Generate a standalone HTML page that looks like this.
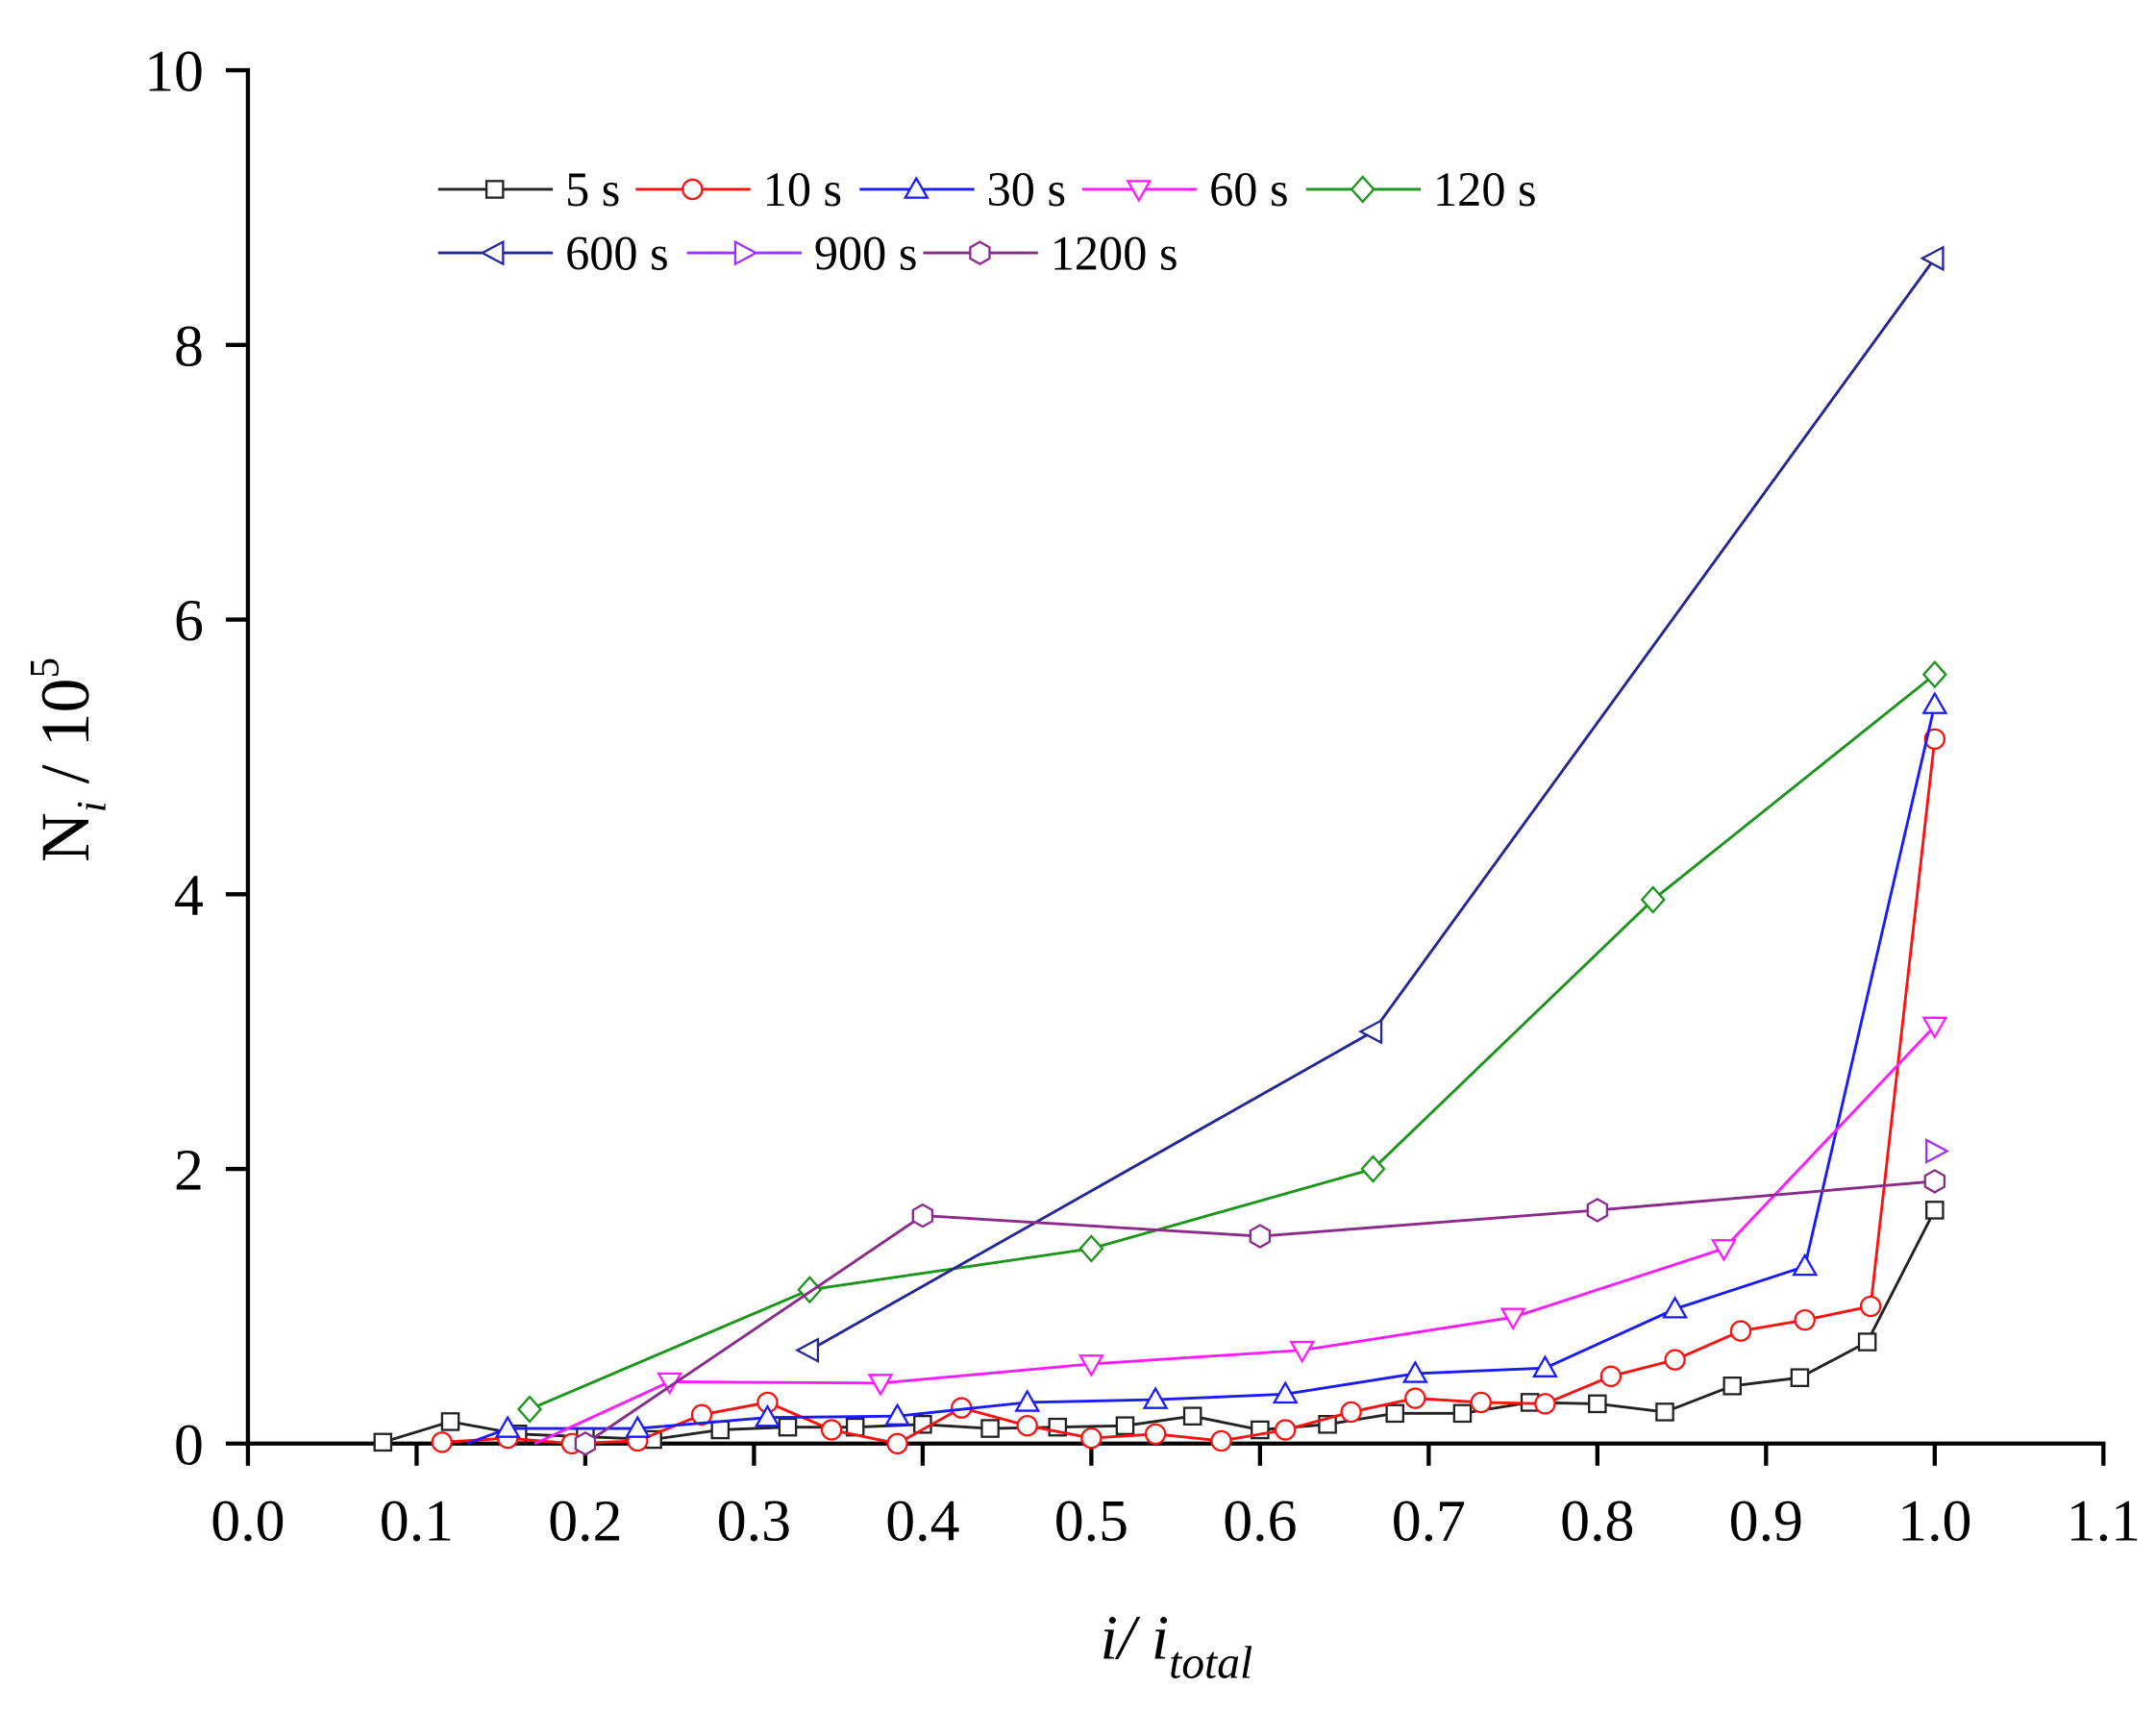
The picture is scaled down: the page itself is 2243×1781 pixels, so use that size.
<!DOCTYPE html>
<html><head><meta charset="utf-8"><style>
html,body{margin:0;padding:0;background:#fff;}
svg{display:block;}
text{font-family:"Liberation Serif",serif;}
</style></head><body>
<svg id="s" width="2243" height="1781" viewBox="0 0 1560 1238.7" preserveAspectRatio="none" xmlns="http://www.w3.org/2000/svg">
<rect width="1560" height="1239" fill="#fff"/>
<g id="axes" stroke="#000" stroke-width="3" fill="none"></g>
<g id="ticks" stroke="#000" stroke-width="3"></g>
<g id="labels" font-size="43" fill="#000"></g>
<text x="0" y="0" font-size="50" transform="translate(64,624) rotate(-90)">N<tspan font-size="30" dy="12" font-style="italic">i</tspan><tspan dy="-12"> / 10</tspan><tspan font-size="30" dy="-22">5</tspan></text>
<text x="796" y="1200" font-size="46" font-style="italic">i/ i<tspan font-size="33" dy="14">total</tspan></text>
<g id="series"></g>
<g id="legend"></g>
</svg>
<script>
const NS="http://www.w3.org/2000/svg";
const X=v=>179.4+1220.5*v, Y=v=>1044.5-99.37*v;
function el(p,t,a){const e=document.createElementNS(NS,t);for(const k in a)e.setAttribute(k,a[k]);p.appendChild(e);return e;}
const ax=document.getElementById('axes');
el(ax,'line',{x1:X(0),y1:Y(10)-1.5,x2:X(0),y2:Y(0)+1.5});
el(ax,'line',{x1:X(0)-1.5,y1:Y(0),x2:X(1.1)+1.5,y2:Y(0)});
const tk=document.getElementById('ticks'),lb=document.getElementById('labels');
for(let i=0;i<=11;i++){const x=X(i/10);el(tk,'line',{x1:x,y1:Y(0),x2:x,y2:Y(0)+16});
 const t=el(lb,'text',{x:x,y:Y(0)+70,'text-anchor':'middle'});t.textContent=(i/10).toFixed(1);}
for(let i=0;i<=10;i+=2){const y=Y(i);el(tk,'line',{x1:X(0)-16,y1:y,x2:X(0),y2:y});
 const t=el(lb,'text',{x:X(0)-32,y:y+15,'text-anchor':'end'});t.textContent=i;}
function marker(g,type,x,y,c){const a={fill:'#fff',stroke:c,'stroke-width':1.6};
 if(type=='sq')el(g,'rect',Object.assign({x:x-6,y:y-6,width:12,height:12},a));
 else if(type=='ci')el(g,'circle',Object.assign({cx:x,cy:y,r:7},a));
 else if(type=='up')el(g,'polygon',Object.assign({points:`${x},${y-8} ${x-8},${y+6} ${x+8},${y+6}`},a));
 else if(type=='dn')el(g,'polygon',Object.assign({points:`${x},${y+8} ${x-8},${y-6} ${x+8},${y-6}`},a));
 else if(type=='di')el(g,'polygon',Object.assign({points:`${x},${y-9} ${x+8},${y} ${x},${y+9} ${x-8},${y}`},a));
 else if(type=='lt')el(g,'polygon',Object.assign({points:`${x-9},${y} ${x+6},${y-8} ${x+6},${y+8}`},a));
 else if(type=='rt')el(g,'polygon',Object.assign({points:`${x+9},${y} ${x-6},${y-8} ${x-6},${y+8}`},a));
 else if(type=='hx')el(g,'polygon',Object.assign({points:`${x},${y-8} ${x+7},${y-4} ${x+7},${y+4} ${x},${y+8} ${x-7},${y+4} ${x-7},${y-4}`},a));}
const S=[
{n:'5 s',c:'#222',m:'sq',d:[[0.08,0.01],[0.12,0.16],[0.16,0.07],[0.2,0.05],[0.24,0.03],[0.28,0.1],[0.32,0.12],[0.36,0.12],[0.4,0.14],[0.44,0.11],[0.48,0.12],[0.52,0.13],[0.56,0.2],[0.6,0.1],[0.64,0.14],[0.68,0.22],[0.72,0.22],[0.76,0.3],[0.8,0.29],[0.84,0.23],[0.88,0.42],[0.92,0.48],[0.96,0.74],[1.0,1.7]]},
{n:'10 s',c:'#ff1010',m:'ci',d:[[0.115,0.01],[0.154,0.04],[0.192,0.0],[0.231,0.02],[0.269,0.21],[0.308,0.3],[0.346,0.1],[0.385,0.0],[0.423,0.26],[0.462,0.13],[0.5,0.04],[0.538,0.07],[0.577,0.02],[0.615,0.1],[0.654,0.23],[0.692,0.33],[0.731,0.3],[0.769,0.29],[0.808,0.49],[0.846,0.61],[0.885,0.82],[0.923,0.9],[0.962,1.0],[1.0,5.13]]},
{n:'30 s',c:'#1a1aff',m:'up',d:[[0.13,0.0],[0.154,0.11],[0.231,0.11],[0.308,0.19],[0.385,0.2],[0.462,0.3],[0.538,0.32],[0.615,0.36],[0.692,0.51],[0.769,0.55],[0.846,0.98],[0.923,1.29],[1.0,5.38]],skipFirst:true},
{n:'60 s',c:'#ff1aff',m:'dn',d:[[0.17,0.0],[0.25,0.45],[0.375,0.44],[0.5,0.58],[0.625,0.68],[0.75,0.92],[0.875,1.42],[1.0,3.04]],skipFirst:true},
{n:'120 s',c:'#1a951a',m:'di',d:[[0.167,0.25],[0.333,1.12],[0.5,1.42],[0.667,2.0],[0.833,3.96],[1.0,5.6]]},
{n:'600 s',c:'#25259a',m:'lt',d:[[0.333,0.68],[0.667,3.0],[1.0,8.63]]},
{n:'900 s',c:'#a030ff',m:'rt',d:[[1.0,2.13]]},
{n:'1200 s',c:'#8a2a8a',m:'hx',d:[[0.2,0.0],[0.4,1.66],[0.6,1.51],[0.8,1.7],[1.0,1.91]]}
];
const sg=document.getElementById('series');
S.forEach(s=>{const g=el(sg,'g',{});
 el(g,'polyline',{points:s.d.map(p=>X(p[0])+','+Y(p[1])).join(' '),fill:'none',stroke:s.c,'stroke-width':2});
 s.d.forEach((p,i)=>{if(!(s.skipFirst&&i==0))marker(g,s.m,X(p[0]),Y(p[1]),s.c);});});
const lg=document.getElementById('legend');
const L=[[0,317,137],[1,460,137],[2,622,137],[3,783,137],[4,945,137],[5,317,183],[6,497,183],[7,668,183]];
L.forEach(([i,x,y])=>{const s=S[i];el(lg,'line',{x1:x,y1:y,x2:x+83,y2:y,stroke:s.c,'stroke-width':2});
 marker(lg,s.m,x+41,y,s.c);const t=el(lg,'text',{x:x+92,y:y+12,'font-size':35});t.textContent=s.n;});
</script>
</body></html>
